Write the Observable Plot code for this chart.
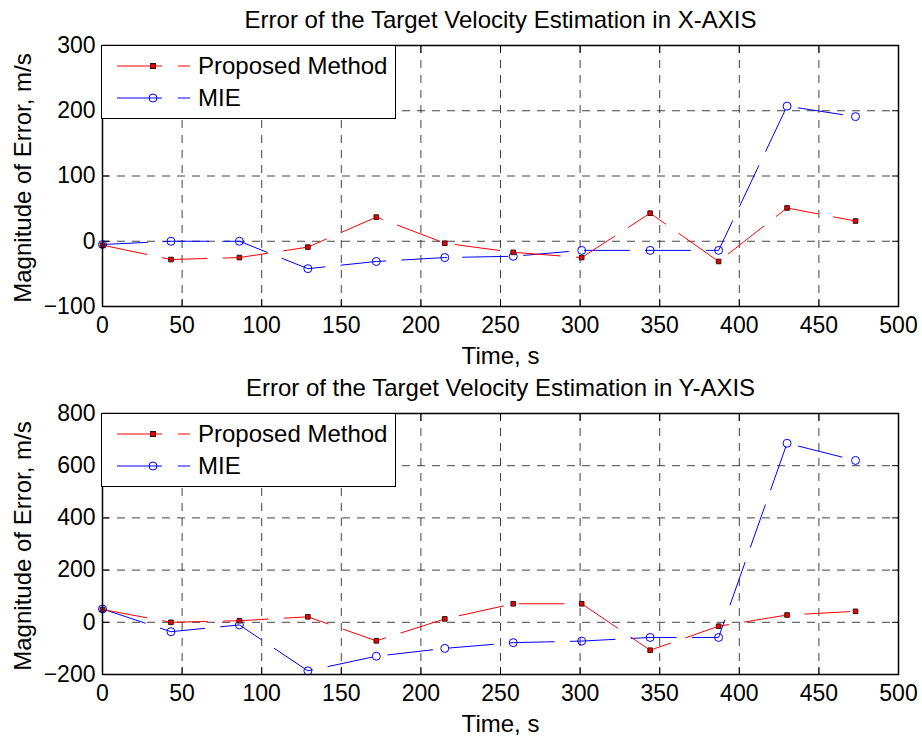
<!DOCTYPE html>
<html>
<head>
<meta charset="utf-8">
<script src="https://cdn.jsdelivr.net/npm/d3@7"></script>
<script src="https://cdn.jsdelivr.net/npm/@observablehq/plot@0.6"></script>
<style>
  body { margin: 0; background: #fff; }
  #wrap { position: relative; width: 922px; height: 738px; font-family: "Liberation Sans", Arial, sans-serif; }
  #wrap svg.plot { display: block; }
  .legend { position: absolute; left: 101px; width: 293px; height: 72px; background: #fff; border: 1.5px solid #000; box-sizing: content-box; font-size: 24px; }
  .legend .row { position: absolute; left: 0; height: 30px; display: flex; align-items: center; }
  .legend .row svg { margin-left: 15px; margin-right: 8px; }
</style>
</head>
<body>
<div id="wrap"></div>
<script>
const times = [0, 43, 86, 129, 172, 215, 258, 301, 344, 387, 430, 473];
const xProposed = [-6, -28, -25, -9, 37, -3, -17, -25, 43, -31, 51, 31];
const xMIE = [-5, 0, 0, -42, -31, -25, -23, -14, -14, -14, 207, 191];
const yProposed = [49, 0, 6, 21, -71, 13, 71, 71, -107, -15, 28, 42];
const yMIE = [51, -36, -10, -186, -130, -100, -78, -72, -58, -58, 686, 620];
const seriesNames = ["Proposed Method", "MIE"];
const xTicks = [0, 50, 100, 150, 200, 250, 300, 350, 400, 450, 500];
const yTicksTop = [-100, 0, 100, 200, 300];
const yTicksBottom = [-200, 0, 200, 400, 600, 800];
const titles = ["Error of the Target Velocity Estimation in X-AXIS", "Error of the Target Velocity Estimation in Y-AXIS"];
const xLabel = "Time, s";
const yLabel = "Magnitude of Error, m/s";

const FONT = 23;
const LABEL_FONT = 24;
const grid = "8,7";
const lineDash = "45,16";

function panel(prop, mie, yDomain, yTicks, title, marginTop, marginBottom) {
  const dProp = times.map((t, i) => ({t, v: prop[i]}));
  const dMie = times.map((t, i) => ({t, v: mie[i]}));
  return Plot.plot({
    width: 922,
    height: 369,
    marginLeft: 102,
    marginRight: 24,
    marginTop,
    marginBottom,
    style: {fontFamily: '"Liberation Sans", Arial, sans-serif', fontSize: FONT + "px", color: "#000", background: "#fff"},
    x: {domain: [0, 500], ticks: xTicks},
    y: {domain: yDomain, ticks: yTicks},
    marks: [
      Plot.gridX(xTicks, {stroke: "#222", strokeOpacity: 0.85, strokeDasharray: grid, strokeWidth: 1}),
      Plot.gridY(yTicks, {stroke: "#222", strokeOpacity: 0.85, strokeDasharray: grid, strokeWidth: 1}),
      Plot.axisX(xTicks, {anchor: "bottom", tickSize: 0, tickPadding: 10, label: null, fontSize: FONT}),
      Plot.axisX(xTicks, {anchor: "bottom", tickSize: 7, dy: -7, tickFormat: () => "", label: null}),
      Plot.axisX(xTicks, {anchor: "top", tickSize: 7, dy: 7, tickFormat: () => "", label: null}),
      Plot.axisY(yTicks, {anchor: "left", tickSize: 0, tickPadding: 7, label: null, fontSize: FONT}),
      Plot.axisY(yTicks, {anchor: "left", tickSize: 7, dx: 7, tickFormat: () => "", label: null}),
      Plot.axisY(yTicks, {anchor: "right", tickSize: 7, dx: -7, tickFormat: () => "", label: null}),
      Plot.line(dMie, {x: "t", y: "v", stroke: "#0000ff", strokeWidth: 1, strokeDasharray: lineDash}),
      Plot.line(dProp, {x: "t", y: "v", stroke: "#ff0000", strokeWidth: 1, strokeDasharray: lineDash}),
      Plot.dot(dMie, {x: "t", y: "v", r: 4, stroke: "#0000ff", fill: "none", strokeWidth: 1}),
      Plot.dot(dProp, {x: "t", y: "v", symbol: "square", r: 2.6, fill: "#ee0000", stroke: "#331111", strokeWidth: 1}),
      Plot.frame({stroke: "#000", strokeWidth: 1.5}),
      Plot.text([title], {frameAnchor: "top", lineAnchor: "middle", textAnchor: "middle", dy: -25, fontSize: LABEL_FONT, text: d => d}),
      Plot.text([xLabel], {frameAnchor: "bottom", lineAnchor: "middle", textAnchor: "middle", dy: 50, fontSize: LABEL_FONT, text: d => d}),
      Plot.text([yLabel], {frameAnchor: "left", lineAnchor: "middle", textAnchor: "middle", dx: -79, dy: 2, rotate: -90, fontSize: LABEL_FONT, text: d => d})
    ]
  });
}

const wrap = document.getElementById("wrap");
const topPanel = panel(xProposed, xMIE, [-100, 300], yTicksTop, titles[0], 45, 63);
topPanel.classList.add("plot");
wrap.appendChild(topPanel);
const botPanel = panel(yProposed, yMIE, [-200, 800], yTicksBottom, titles[1], 44, 64);
botPanel.classList.add("plot");
wrap.appendChild(botPanel);

function legend(topPx) {
  const div = document.createElement("div");
  div.className = "legend";
  div.style.top = topPx + "px";
  const rows = [
    {name: seriesNames[0], color: "#ff0000", marker: "square"},
    {name: seriesNames[1], color: "#0000ff", marker: "circle"}
  ];
  rows.forEach((r, i) => {
    const row = document.createElement("div");
    row.className = "row";
    row.style.top = (5 + i * 32) + "px";
    const m = r.marker === "square"
      ? `<rect x="33.5" y="12.5" width="5" height="5" fill="#ee0000" stroke="#331111" stroke-width="1"/>`
      : `<circle cx="36" cy="15" r="4" fill="none" stroke="#0000ff" stroke-width="1"/>`;
    row.innerHTML = `<svg width="73" height="30"><line x1="0" x2="73" y1="15" y2="15" stroke="${r.color}" stroke-width="1" stroke-dasharray="${lineDash}"/>${m}</svg><span>${r.name}</span>`;
    div.appendChild(row);
  });
  wrap.appendChild(div);
}
legend(44.5);
legend(369 + 43.5);
</script>
</body>
</html>
